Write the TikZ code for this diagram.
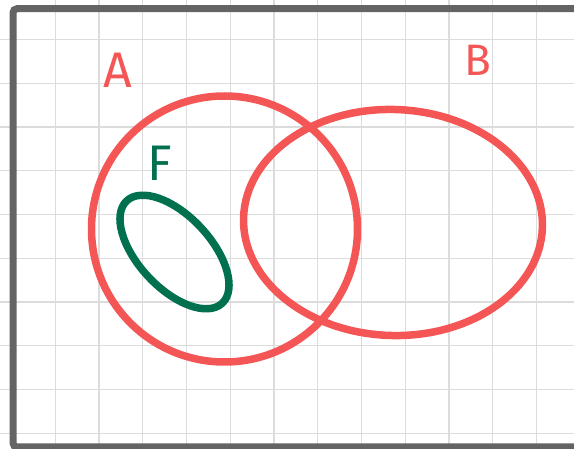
\documentclass[tikz,border=0pt]{standalone}
\usepackage{fontspec}
\setmainfont{Fira Sans}
\definecolor{setred}{HTML}{F45656}
\definecolor{setgreen}{HTML}{00704F}
\definecolor{framegray}{HTML}{646464}
\definecolor{gridgray}{HTML}{DCDCDC}
\begin{document}
\begin{tikzpicture}[x=1pt,y=1pt,
  gridline/.style={draw=gridgray,line width=1.4pt},
  setline/.style={draw=setred,line width=7.5pt},
  subline/.style={draw=setgreen,line width=7.5pt},
  framebox/.style={draw=framegray,line width=7pt,rounded corners=4pt},
  setlabel/.style={font=\fontsize{50}{50}\selectfont,inner sep=0pt}]
\useasboundingbox (0,0) rectangle (574,-449);
% grid
\foreach \k in {1,...,12} {
  \draw[gridline] ({11.5+43.75*\k},0) -- ({11.5+43.75*\k},-449);
}
\foreach \k in {1,...,10} {
  \draw[gridline] (0,{-(-4.2+43.75*\k)}) -- (574,{-(-4.2+43.75*\k)});
}
% frame
\draw[framebox] (600,-8.7) -- (13,-8.7) -- (13,-447) -- (600,-447);
% sets
\coordinate (Ac) at (224.5,-229);
\coordinate (Bc) at (393,-222.5);
\coordinate (Fc) at (174.5,-252);
\draw[setline] (Ac) circle[radius=133];
\draw[setline] (Bc) circle[x radius=149.5,y radius=113,rotate=-2];
\draw[subline] (Fc) circle[x radius=70,y radius=36,rotate=-47];
% labels
\node[setlabel,text=setred] (A) at (118,-70) {A};
\node[setlabel,text=setred,font=\fontsize{44}{44}\selectfont] (B) at (478,-60) {B};
\node[setlabel,text=setgreen] (F) at (160,-163) {F};
\end{tikzpicture}
\end{document}
